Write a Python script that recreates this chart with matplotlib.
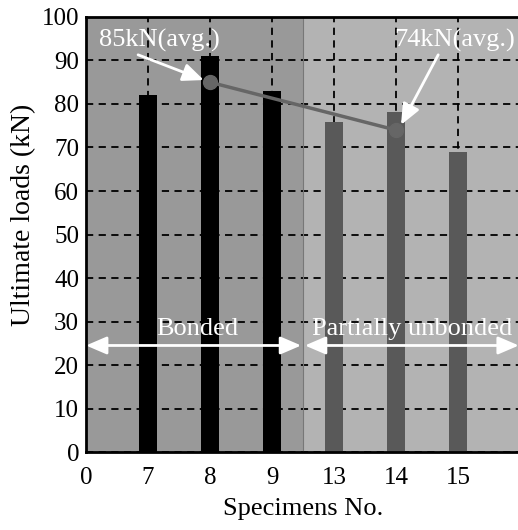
import numpy as np
import matplotlib.pyplot as plt

plt.rcParams['font.family'] = 'Liberation Serif'

# --- data ---
tick_labels = ['0', '7', '8', '9', '13', '14', '15']
bonded_ids = ['7', '8', '9']
bonded_loads = [82.1, 91.0, 83.0]
unbonded_ids = ['13', '14', '15']
unbonded_loads = [75.9, 78.2, 69.0]
avg_ids = ['8', '14']
avg_loads = [85, 74]

pos = {lab: i for i, lab in enumerate(tick_labels)}

fig = plt.figure(figsize=(5.18, 5.30), dpi=100)
ax = fig.add_axes([0.166, 0.147, 0.838, 0.821])

# background regions
ax.axvspan(0, 3.5, color='#999999', zorder=0, lw=0)
ax.axvspan(3.5, 7, color='#b3b3b3', zorder=0, lw=0)
ax.axvline(3.5, color='#777777', lw=0.8, zorder=1)

ax.set_axisbelow(True)
ax.grid(True, color='black', linestyle=(0, (4, 3)), linewidth=1.3, zorder=1)

# bars
ax.bar([pos[s] for s in bonded_ids], bonded_loads, width=0.3, color='black', zorder=2)
ax.bar([pos[s] for s in unbonded_ids], unbonded_loads, width=0.3, color='#595959', zorder=2)

# average line
xa = [pos[s] for s in avg_ids]
ax.plot(xa, avg_loads, '-o', color='#666666', lw=2.5, markersize=10, zorder=3)

head = '-|>,head_length=0.7,head_width=0.3'
ax.text(1.19, 94.7, '85kN(avg.)', color='white', fontsize=19, ha='center', va='center', zorder=4)
ax.annotate('', xy=(xa[0] - 0.1, avg_loads[0] + 0.5), xytext=(0.84, 91.3), zorder=4,
            arrowprops=dict(arrowstyle=head, color='white', lw=2, mutation_scale=18,
                            shrinkA=0, shrinkB=0))
ax.text(5.95, 94.7, '74kN(avg.)', color='white', fontsize=19, ha='center', va='center', zorder=4)
ax.annotate('', xy=(xa[1] + 0.08, avg_loads[1] + 1.2), xytext=(5.68, 91.3), zorder=4,
            arrowprops=dict(arrowstyle=head, color='white', lw=2, mutation_scale=18,
                            shrinkA=0, shrinkB=0))

# region arrows
dhead = '<|-|>,head_length=0.7,head_width=0.3'
ax.annotate('', xy=(0.0, 24.5), xytext=(3.47, 24.5), zorder=4,
            arrowprops=dict(arrowstyle=dhead, color='white', lw=2, mutation_scale=18,
                            shrinkA=0, shrinkB=0))
ax.annotate('', xy=(3.53, 24.5), xytext=(6.98, 24.5), zorder=4,
            arrowprops=dict(arrowstyle=dhead, color='white', lw=2, mutation_scale=18,
                            shrinkA=0, shrinkB=0))
ax.text(1.79, 28.3, 'Bonded', color='white', fontsize=19, ha='center', va='center', zorder=4)
ax.text(5.26, 28.3, 'Partially unbonded', color='white', fontsize=19, ha='center', va='center', zorder=4)

ax.set_xlim(0, 7)
ax.set_ylim(0, 100)
ax.set_xticks(range(len(tick_labels)))
ax.set_xticklabels(tick_labels)
ax.set_yticks(np.arange(0, 101, 10))
ax.tick_params(length=0, labelsize=18)
ax.tick_params(axis='x', pad=11)
ax.tick_params(axis='y', pad=5)
for s in ax.spines.values():
    s.set_linewidth(2)

ax.set_xlabel('Specimens No.', fontsize=19, labelpad=6)
ax.set_ylabel('Ultimate loads (kN)', fontsize=20, va='center')
ax.yaxis.set_label_coords(-0.143, 0.545)

fig.savefig('out.png', dpi=100)
